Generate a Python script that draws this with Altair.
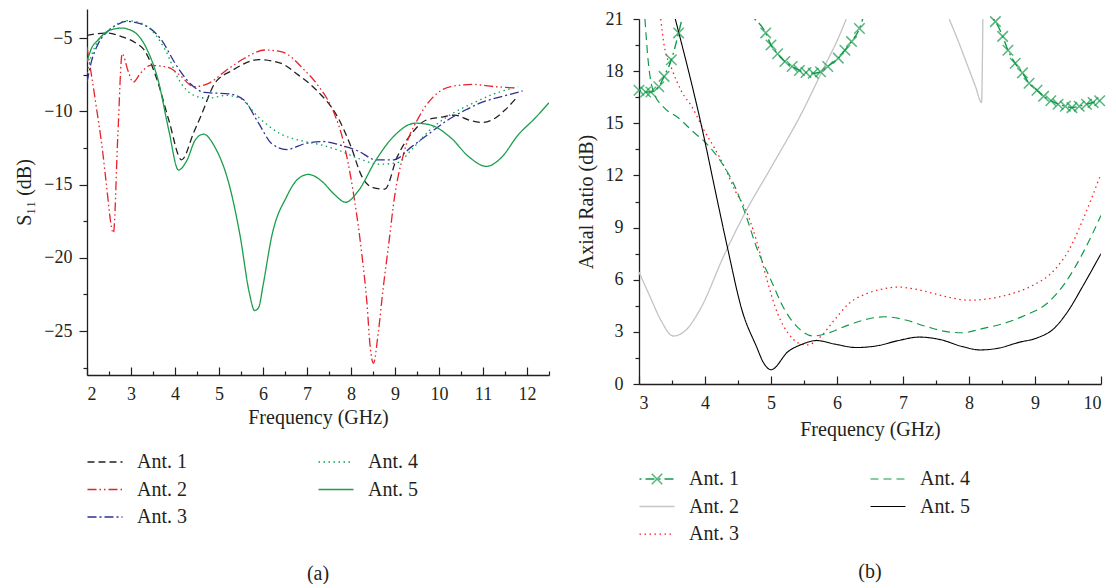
import altair as alt
import pandas as pd

FONT = "Liberation Serif"
TXT = "#231f20"

# ---------------- (a) S11 ----------------
s11_names = ["Ant. 1", "Ant. 2", "Ant. 3", "Ant. 4", "Ant. 5"]
s11_colors = ["#231f20", "#e8202a", "#2e3192", "#00a651", "#1b9e4b"]
s11_dashes = [[7, 4], [9, 3, 1.5, 3, 1.5, 3], [9, 3, 2, 3], [1.5, 3.5], [1, 0]]
s11_widths = [1.3, 1.3, 1.3, 1.4, 1.5]

s11_ant1_f = [2.0, 2.2, 2.48, 2.8, 3.1, 3.3, 3.6, 3.86, 4.15, 4.43, 4.59, 4.9, 5.3, 5.9, 6.4, 6.8, 7.2, 7.7,
              8.0, 8.24, 8.5, 8.77, 9.05, 9.38, 9.7, 10.03, 10.35, 10.7, 11.0, 11.25, 11.5, 11.75]
s11_ant1_db = [-4.8, -4.7, -4.65, -4.9, -5.3, -5.8, -7.9, -10.6, -13.3, -11.4, -10.3, -8.1, -7.2, -6.46, -6.7,
               -7.5, -8.5, -10.4, -12.4, -14.4, -15.2, -15.3, -13.1, -11.5, -10.6, -10.4, -10.25, -10.6,
               -10.75, -10.5, -9.9, -9.1]

s11_ant2_f = [2.0, 2.2, 2.36, 2.43, 2.6, 2.7, 2.8, 2.93, 3.05, 3.21, 3.45, 3.86, 4.1, 4.43, 4.75, 5.16, 5.56,
              6.05, 6.45, 6.95, 7.27, 7.6, 7.84, 8.04, 8.24, 8.36, 8.44, 8.51, 8.62, 8.73, 8.88, 8.97, 9.2,
              9.54, 9.87, 10.27, 10.76, 11.25, 11.75]
s11_ant2_db = [-5.6, -9.45, -12.85, -14.7, -18.3, -11.7, -6.05, -7.2, -8.0, -7.4, -6.85, -7.0, -7.5, -8.3,
               -8.1, -7.2, -6.4, -5.8, -5.95, -7.2, -8.3, -10.0, -12.2, -15.3, -19.6, -23.0, -26.2, -27.2,
               -25.1, -22.1, -18.5, -16.25, -12.85, -10.4, -9.0, -8.3, -8.15, -8.3, -8.4]

s11_ant3_f = [2.0, 2.1, 2.25, 2.48, 2.7, 2.9, 3.3, 3.7, 4.0, 4.35, 4.67, 5.24, 5.56, 5.9, 6.2, 6.54, 6.95,
              7.35, 7.76, 8.16, 8.57, 8.97, 9.38, 9.78, 10.19, 10.6, 11.0, 11.4, 11.9]
s11_ant3_db = [-8.0, -6.6, -5.4, -4.5, -4.05, -3.85, -4.1, -5.15, -6.7, -8.1, -8.7, -8.8, -9.2, -10.8, -12.2,
               -12.6, -12.2, -12.05, -12.3, -12.7, -13.3, -13.3, -12.4, -11.5, -10.6, -9.9, -9.35, -9.0, -8.6]

s11_ant4_f = [2.0, 2.1, 2.25, 2.48, 2.9, 3.1, 3.45, 3.78, 4.1, 4.43, 4.75, 5.16, 5.48, 5.9, 6.38, 6.95, 7.35,
              7.76, 8.16, 8.65, 9.05, 9.38, 9.78, 10.27, 10.76, 11.25, 11.8]
s11_ant4_db = [-7.4, -6.2, -5.2, -4.5, -3.8, -3.85, -4.4, -5.8, -7.9, -8.9, -9.1, -8.9, -9.1, -10.4, -11.5,
               -12.05, -12.3, -12.7, -13.2, -13.6, -13.5, -12.6, -11.3, -10.2, -9.45, -8.8, -8.3]

s11_ant5_f = [2.0, 2.1, 2.24, 2.45, 2.64, 2.8, 2.95, 3.13, 3.37, 3.62, 3.86, 4.08, 4.26, 4.47, 4.65, 4.9, 5.24,
              5.48, 5.69, 5.81, 5.9, 6.0, 6.2, 6.54, 6.78, 7.03, 7.35, 7.6, 7.88, 8.16, 8.57, 8.97, 9.46, 9.78,
              10.27, 10.68, 11.08, 11.4, 11.8, 12.2, 12.5]
s11_ant5_db = [-6.6, -5.7, -5.15, -4.55, -4.35, -4.3, -4.4, -4.7, -5.8, -7.9, -11.3, -14.0, -13.4, -11.9,
               -11.55, -12.4, -15.1, -18.5, -22.4, -23.6, -23.4, -21.9, -18.5, -15.8, -14.65, -14.3, -14.8,
               -15.6, -16.2, -15.45, -13.3, -11.7, -10.8, -10.9, -11.8, -13.1, -13.75, -13.2, -11.6, -10.4, -9.4]

s11_x_major = [2, 3, 4, 5, 6, 7, 8, 9, 10, 11, 12]
s11_x_minor = [2.5, 3.5, 4.5, 5.5, 6.5, 7.5, 8.5, 9.5, 10.5, 11.5, 12.5]
s11_y_major = [-25, -20, -15, -10, -5]
s11_y_minor = [-27.5, -22.5, -17.5, -12.5, -7.5]

# ---------------- (b) Axial ratio ----------------
ar_names = ["Ant. 1", "Ant. 2", "Ant. 3", "Ant. 4", "Ant. 5"]
ar_colors = ["#0f9a48", "#c4c4c4", "#ff1a1a", "#0f9a48", "#000000"]
ar_dashes = [[2, 4, 9, 4], [1, 0], [1.5, 3.5], [8, 5], [1, 0]]
ar_widths = [1.4, 1.1, 1.6, 1.5, 1.3]

ar_ant1_f_a = [3.0, 3.1, 3.18, 3.3, 3.38, 3.49, 3.6, 3.65]
ar_ant1_db_a = [16.9, 16.8, 16.8, 17.1, 17.7, 18.65, 20.2, 21.0]
ar_ant1_f_b = [4.75, 4.92, 5.0, 5.1, 5.21, 5.32, 5.43, 5.53, 5.64, 5.75, 5.86, 6.02, 6.12, 6.22, 6.34, 6.39]
ar_ant1_db_b = [21.0, 20.2, 19.5, 19.0, 18.55, 18.27, 18.04, 17.92, 17.88, 17.96, 18.27, 18.75, 19.2, 19.7,
                20.45, 21.0]
ar_ant1_f_c = [8.37, 8.40, 8.51, 8.59, 8.70, 8.81, 8.91, 9.03, 9.13, 9.24, 9.35, 9.46, 9.56, 9.67, 9.78,
               9.88, 9.98]
ar_ant1_db_c = [21.0, 20.85, 20.0, 19.2, 18.45, 17.9, 17.3, 16.9, 16.55, 16.3, 16.1, 15.98, 15.9, 15.98,
                16.1, 16.2, 16.3]

ar_ant2_f_a = [3.0, 3.17, 3.33, 3.52, 3.71, 3.92, 4.3, 4.6, 5.0, 5.48, 5.8, 6.02, 6.14]
ar_ant2_db_a = [6.44, 5.0, 3.68, 2.76, 3.1, 4.25, 7.5, 9.8, 12.45, 15.7, 18.2, 19.9, 21.0]
ar_ant2_f_b = [7.70, 7.85, 8.0, 8.1, 8.19, 8.21]
ar_ant2_db_b = [21.0, 19.6, 18.1, 17.1, 16.2, 21.0]

ar_ant3_f = [3.33, 3.38, 3.49, 3.65, 3.81, 3.97, 4.14, 4.3, 4.46, 4.62, 4.78, 4.94, 5.1, 5.26, 5.42, 5.55,
             5.75, 5.96, 6.18, 6.45, 6.72, 6.93, 7.14, 7.47, 7.68, 8.0, 8.33, 8.65, 8.97, 9.29, 9.51, 9.72, 9.98]
ar_ant3_db = [21.0, 19.5, 18.2, 16.8, 15.9, 14.7, 13.6, 12.45, 11.1, 10.0, 8.25, 5.97, 4.06, 2.92, 2.35, 2.25,
              2.72, 3.68, 4.63, 5.2, 5.49, 5.58, 5.49, 5.2, 5.0, 4.82, 4.92, 5.2, 5.68, 6.54, 7.68, 9.4, 11.9]

ar_ant4_f = [3.09, 3.14, 3.22, 3.38, 3.6, 3.81, 4.03, 4.24, 4.46, 4.62, 4.78, 5.0, 5.21, 5.42, 5.64, 5.85,
             6.18, 6.5, 6.72, 7.04, 7.36, 7.68, 7.9, 8.22, 8.54, 8.86, 9.18, 9.45, 9.72, 10.0]
ar_ant4_db = [21.0, 18.55, 16.8, 15.9, 15.3, 14.55, 13.8, 12.8, 11.3, 9.7, 7.87, 5.97, 4.25, 3.2, 2.76, 2.92,
              3.4, 3.77, 3.87, 3.68, 3.3, 3.0, 2.95, 3.2, 3.5, 3.97, 4.63, 5.78, 7.5, 9.7]

ar_ant5_f = [3.55, 3.95, 4.19, 4.35, 4.56, 4.78, 4.89, 5.0, 5.26, 5.48, 5.69, 5.96, 6.29, 6.61, 6.93, 7.25,
             7.57, 7.9, 8.17, 8.43, 8.76, 9.03, 9.29, 9.51, 9.72, 10.0]
ar_ant5_db = [21.0, 14.8, 10.5, 7.68, 4.25, 2.15, 1.2, 0.82, 1.87, 2.3, 2.5, 2.3, 2.1, 2.2, 2.5, 2.7, 2.55,
              2.15, 1.96, 2.05, 2.4, 2.65, 3.2, 4.25, 5.6, 7.5]

ar_x_major = [3, 4, 5, 6, 7, 8, 9, 10]
ar_x_minor = [3.5, 4.5, 5.5, 6.5, 7.5, 8.5, 9.5]
ar_y_major = [0, 3, 6, 9, 12, 15, 18, 21]
ar_y_minor = [1.5, 4.5, 7.5, 10.5, 13.5, 16.5, 19.5]

X_MARK = "M-1,-1L1,1M-1,1L1,-1"


def build(parts):
    rows = []
    for name, seg, fs, vs in parts:
        for f, v in zip(fs, vs):
            rows.append({"series": name, "seg": f"{name}-{seg}", "f": f, "v": v})
    return pd.DataFrame(rows)


def legend_table(names):
    return pd.DataFrame({"series": names,
                         "col": [i // 3 for i in range(len(names))],
                         "row": [i % 3 for i in range(len(names))]})


s11_df = build([
    (s11_names[0], 0, s11_ant1_f, s11_ant1_db),
    (s11_names[1], 0, s11_ant2_f, s11_ant2_db),
    (s11_names[2], 0, s11_ant3_f, s11_ant3_db),
    (s11_names[3], 0, s11_ant4_f, s11_ant4_db),
    (s11_names[4], 0, s11_ant5_f, s11_ant5_db),
])
ar_df = build([
    (ar_names[0], 0, ar_ant1_f_a, ar_ant1_db_a),
    (ar_names[0], 1, ar_ant1_f_b, ar_ant1_db_b),
    (ar_names[0], 2, ar_ant1_f_c, ar_ant1_db_c),
    (ar_names[1], 0, ar_ant2_f_a, ar_ant2_db_a),
    (ar_names[1], 1, ar_ant2_f_b, ar_ant2_db_b),
    (ar_names[2], 0, ar_ant3_f, ar_ant3_db),
    (ar_names[3], 0, ar_ant4_f, ar_ant4_db),
    (ar_names[4], 0, ar_ant5_f, ar_ant5_db),
])


def panel(df, names, colors, dashes, widths, xdom, ydom, xmaj, xmin, ymaj, ymin, ytitle,
          W, H, ytick, ylabpad, ytitlepad, xlabpad, xtitlepad, leg_range, caption, cap_off, cap_dx,
          marker_series=None):
    cs = alt.Scale(domain=names, range=colors)
    ds = alt.Scale(domain=names, range=dashes)
    ws = alt.Scale(domain=names, range=widths)

    def xs():
        return alt.Scale(domain=xdom, nice=False, zero=False)

    def ys():
        return alt.Scale(domain=ydom, nice=False, zero=False)

    base = alt.Chart(df)
    lines = base.mark_line(interpolate="monotone", clip=True).encode(
        x=alt.X("f:Q", scale=xs(), axis=alt.Axis(orient="bottom", title="Frequency (GHz)", values=xmaj,
                                                 format="d", ticks=False, tickSize=0, labelPadding=xlabpad,
                                                 titlePadding=xtitlepad)),
        y=alt.Y("v:Q", scale=ys(), axis=alt.Axis(orient="left", title=ytitle, values=ymaj, format="d",
                                                 tickSize=ytick, labelPadding=ylabpad,
                                                 titlePadding=ytitlepad)),
        color=alt.Color("series:N", scale=cs, legend=None),
        strokeDash=alt.StrokeDash("series:N", scale=ds, legend=None),
        strokeWidth=alt.StrokeWidth("series:N", scale=ws, legend=None),
        detail="seg:N",
    )
    tick_x_major = base.mark_line(opacity=0, clip=True).encode(
        x=alt.X("f:Q", scale=xs(), axis=alt.Axis(orient="bottom", values=xmaj, labels=False, domain=False,
                                                 tickSize=8, offset=-8, title=None)),
        y=alt.Y("v:Q", scale=ys(), axis=None),
        detail="seg:N",
    )
    tick_x_minor = base.mark_line(opacity=0, clip=True).encode(
        x=alt.X("f:Q", scale=xs(), axis=alt.Axis(orient="bottom", values=xmin, labels=False, domain=False,
                                                 tickSize=4, offset=-4, title=None)),
        y=alt.Y("v:Q", scale=ys(), axis=None),
        detail="seg:N",
    )
    tick_y_minor = base.mark_line(opacity=0, clip=True).encode(
        x=alt.X("f:Q", scale=xs(), axis=None),
        y=alt.Y("v:Q", scale=ys(), axis=alt.Axis(orient="left", values=ymin, labels=False, domain=False,
                                                 tickSize=4, title=None)),
        detail="seg:N",
    )
    layers = [lines, tick_x_major, tick_x_minor, tick_y_minor]

    if marker_series is not None:
        marks = base.transform_filter(
            (alt.datum.series == marker_series) & (alt.datum.v < 20.95)
        ).mark_point(shape=X_MARK, size=110, filled=False, strokeWidth=1.5, color=colors[0]).encode(
            x=alt.X("f:Q", scale=xs(), axis=None),
            y=alt.Y("v:Q", scale=ys(), axis=None),
        )
        layers.append(marks)

    leg = alt.Chart(legend_table(names)).encode(
        x=alt.X("col:Q", scale=alt.Scale(domain=[0, 1], range=[18, 249]), axis=None),
        y=alt.Y("row:Q", scale=alt.Scale(domain=[0, 2], range=leg_range), axis=None),
    )
    leg_sym = leg.mark_point(shape="stroke", size=1225, filled=False, opacity=1).encode(
        color=alt.Color("series:N", scale=cs, legend=None),
        strokeDash=alt.StrokeDash("series:N", scale=ds, legend=None),
        strokeWidth=alt.StrokeWidth("series:N", scale=ws, legend=None),
    )
    leg_txt = leg.mark_text(align="left", baseline="middle", dx=32, font=FONT, fontSize=20,
                            color=TXT).encode(text="series:N")
    layers += [leg_sym, leg_txt]
    if marker_series is not None:
        leg_mark = leg.transform_filter(alt.datum.series == marker_series).mark_point(
            shape=X_MARK, size=110, filled=False, strokeWidth=1.5, color=colors[0])
        layers.append(leg_mark)

    return alt.layer(*layers).resolve_scale(x="independent", y="independent").properties(
        width=W, height=H,
        title=alt.TitleParams(text=caption, orient="bottom", anchor="middle", offset=cap_off, dx=cap_dx,
                              font=FONT, fontSize=20, fontWeight="normal", color=TXT),
    )


left = panel(s11_df, s11_names, s11_colors, s11_dashes, s11_widths, [2, 12.5], [-28, -3],
             s11_x_major, s11_x_minor, s11_y_major, s11_y_minor, "S₁₁ (dB)",
             462, 366, 8, 7, 9, 10, 4, [453, 508], "(a)", 37, 0)
right = panel(ar_df, ar_names, ar_colors, ar_dashes, ar_widths, [3, 10], [0, 21],
              ar_x_major, ar_x_minor, ar_y_major, ar_y_minor, "Axial Ratio (dB)",
              462, 365, 6, 10, 9, 10, 7, [460, 515], "(b)", 18, 0, marker_series="Ant. 1")

spacer = alt.Chart(pd.DataFrame({"s": [0]})).mark_text(text=" ", fontSize=1, opacity=0).properties(
    width=1, height=1)

chart = alt.hconcat(left, alt.vconcat(spacer, right, spacing=0), spacing=26).resolve_scale(
    color="independent", strokeDash="independent", strokeWidth="independent"
).properties(
    padding={"left": 6, "top": 0, "right": 0, "bottom": 0}
).configure_view(stroke=None).configure_axis(
    labelFont=FONT, titleFont=FONT, labelColor=TXT, titleColor=TXT, labelFontSize=18, titleFontSize=20,
    titleFontWeight="normal", domainColor=TXT, tickColor=TXT, domainWidth=1.3, tickWidth=1.2, grid=False,
)

chart.save("out.html", embed_options={"renderer": "svg", "actions": False})
